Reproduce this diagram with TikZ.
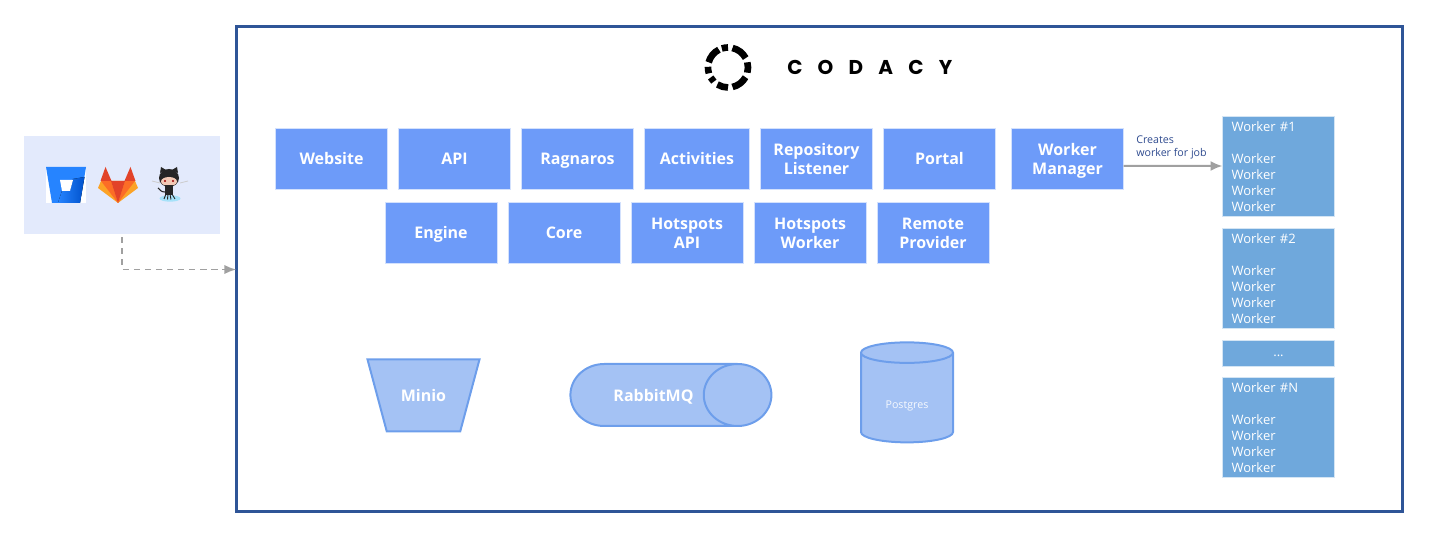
\documentclass[tikz,border=0pt]{standalone}
\usepackage{fontspec}
\setmainfont{Open Sans}
\newfontfamily\logofont[LetterSpace=76]{Poppins Bold}
\usetikzlibrary{positioning,arrows.meta,shapes.geometric,calc}

\definecolor{framecol}{HTML}{2F5597}
\definecolor{boxcol}{HTML}{6D9BF9}
\definecolor{workercol}{HTML}{6FA8DC}
\definecolor{lightcol}{HTML}{A4C2F4}
\definecolor{palecol}{HTML}{C9DAF8}
\definecolor{edgecol}{HTML}{6D9EEB}
\definecolor{sourcecol}{HTML}{E3EAFC}
\definecolor{flowcol}{HTML}{A0A0A0}
\definecolor{notecol}{HTML}{2F4B8F}
\definecolor{bucketcol}{HTML}{2684FF}
\definecolor{bucketdark}{HTML}{0052CC}
\definecolor{labred}{HTML}{E24329}
\definecolor{laborange}{HTML}{FC6D26}
\definecolor{labyellow}{HTML}{FCA326}
\definecolor{catskin}{HTML}{F2C9B5}

\newcommand{\firstline}{\rule{0pt}{14pt}}

\tikzset{
    service/.style={fill=boxcol, draw=white!70!boxcol, line width=0.3pt, text=white, font=\bfseries\fontsize{12}{14.2}\selectfont,
        align=center, minimum width=84pt, minimum height=45.75pt, inner sep=0pt, outer sep=0pt,
        execute at begin node={\rule{0pt}{13.5pt}}, execute at end node={\rule[-3.8pt]{0pt}{3.8pt}}},
    workerbox/.style={fill=workercol, draw=white!70!workercol, line width=0.3pt, text=white, font=\fontsize{9.75}{12}\selectfont,
        align=left, text width=70.5pt, minimum height=75pt, inner xsep=6.75pt, inner ysep=0pt, outer sep=0pt, anchor=north west},
    store/.style={fill=lightcol, draw=edgecol, line width=1.5pt, text=white, inner sep=0pt, outer sep=0pt,
        font=\bfseries\fontsize{12}{14}\selectfont},
    flow/.style={-{Latex[length=9pt,width=7.5pt]}, draw=flowcol, line width=1.5pt},
    dashflow/.style={-{Latex[length=9pt,width=7pt]}, draw=flowcol, line width=1.4pt, dash pattern=on 4.7pt off 3.6pt},
}

\begin{document}
\begin{tikzpicture}[x=0.75pt,y=-0.75pt]
    \useasboundingbox (0,0) rectangle (1447,541);

    %%%%% THE FRAME
    \node (frame) [draw=framecol, line width=2.25pt, minimum width=874.75pt, minimum height=363.75pt,
        inner sep=0pt, outer sep=0pt] at (819.5,269.5) {};

    %%%%% THE LOGO
    \coordinate (ring) at (728,67.5);
    \foreach \from/\to in {90/108, 28/77, -15/15, -77/-29, -122/-90, -150/-135, 178/197, 117/165}
      \draw[black, line width=5pt] ([shift={(\from:15pt)}]ring) arc[start angle=\from, end angle=\to, radius=15pt];
    \node (codacy) [anchor=west, inner sep=0pt, font=\logofont\fontsize{15}{15}\selectfont] at (787,67.5) {CODACY};

    %%%%% THE SERVICES
    \node (website) [service, anchor=north west] at (275.5,128) {Website};
    \node (api) [service, right=8.25pt of website] {API};
    \node (ragnaros) [service, right=8.25pt of api] {Ragnaros};
    \node (activities) [service, right=8.25pt of ragnaros, minimum width=78.75pt] {Activities};
    \node (listener) [service, right=8.25pt of activities] {\firstline Repository\\Listener};
    \node (portal) [service, right=8.25pt of listener] {Portal};
    \node (manager) [service, right=12pt of portal] {\firstline Worker\\Manager};

    \node (engine) [service, anchor=north west] at (385,202) {Engine};
    \node (core) [service, right=8.25pt of engine] {Core};
    \node (hotapi) [service, right=8.25pt of core] {\firstline Hotspots\\API};
    \node (hotworker) [service, right=8.25pt of hotapi] {\firstline Hotspots\\Worker};
    \node (remote) [service, right=8.25pt of hotworker] {\firstline Remote\\Provider};

    %%%%% THE WORKERS
    \node (worker1) [workerbox] at (1222.5,116) {\rule{0pt}{9pt}Worker \#1\\\mbox{}\\Worker\\Worker\\Worker\\Worker};
    \node (worker2) [workerbox] at (1222.5,228) {\rule{0pt}{9pt}Worker \#2\\\mbox{}\\Worker\\Worker\\Worker\\Worker};
    \node (dots) [workerbox, minimum height=19.5pt, align=center] at (1222.5,340) {\rule{0pt}{6pt}...};
    \node (workern) [workerbox] at (1222.5,377) {\rule{0pt}{9pt}Worker \#N\\\mbox{}\\Worker\\Worker\\Worker\\Worker};

    %%%%% THE STORES
    \node (minio) [store, trapezium, shape border rotate=180, trapezium stretches=true,
        trapezium left angle=46, trapezium right angle=46,
        minimum width=84pt, minimum height=54pt] at (423.5,395.5) {\raisebox{-0.6pt}{Minio}};
    \node (rabbit) [store, cylinder, shape aspect=4.45, cylinder uses custom fill,
        cylinder body fill=lightcol, cylinder end fill=lightcol,
        minimum width=46.5pt, minimum height=150.75pt] at (653.5,395) {\raisebox{-1.4pt}[9pt][2.4pt]{RabbitMQ}};
    \node (postgres) [store, cylinder, shape border rotate=90, shape aspect=0.48, cylinder uses custom fill,
        cylinder body fill=lightcol, cylinder end fill=palecol, text=white!90!lightcol,
        minimum width=69pt, minimum height=75pt, font=\fontsize{8}{10}\selectfont] at (907,398) {\raisebox{-8.2pt}[0pt][0pt]{Postgres}};

    %%%%% THE SOURCES
    \node (source) [fill=sourcecol, minimum width=147pt, minimum height=73.5pt, inner sep=0pt, outer sep=0pt] at (122,185) {};
    % bitbucket
    \fill[white] (46,167) rectangle (86,203);
    \fill[bucketcol] (46,167) -- (86,167) -- (80,203) -- (52,203) -- cycle;
    \fill[left color=bucketcol, right color=bucketdark] (73,179) -- (84.5,177) -- (80,203) -- (58,203) -- (62,191) -- (70,191) -- cycle;
    \fill[white] (60,180) -- (73,180) -- (70,191) -- (62,191) -- cycle;
    % gitlab
    \fill[labyellow] (98,188) -- (101,181) -- (135,181) -- (138,188) -- (118,203) -- cycle;
    \fill[laborange] (101,181) -- (111,181) -- (118,203) -- cycle;
    \fill[laborange] (135,181) -- (125,181) -- (118,203) -- cycle;
    \fill[labred] (111,181) -- (125,181) -- (118,203) -- cycle;
    \fill[labred] (105.5,167) -- (111.5,181) -- (100.5,181) -- cycle;
    \fill[labred] (130.5,167) -- (124.5,181) -- (135.5,181) -- cycle;
    % octocat
    \draw[black!20, line width=0.6pt] (152,181) -- (160,183) (180,183) -- (188,181);
    \fill[cyan!35] (170,198.5) ellipse [x radius=10.5, y radius=3.2];
    \fill[black!85] (169,178) ellipse [x radius=10, y radius=9];
    \fill[black!85] (160,173) -- (161,167) -- (166,170) -- cycle (178,173) -- (177,167) -- (172,170) -- cycle;
    \fill[catskin] (169,181.5) ellipse [x radius=8, y radius=4.5];
    \fill[red!60!black] (165,181) circle (1.1) (173,181) circle (1.1);
    \fill[black!85] (165,185) rectangle (173,195);
    \draw[black!85, line width=0.7pt] (166,194) -- (164,199) (168,194) -- (167.5,199.5) (170,194) -- (171,199.5) (172,194) -- (175,199);
    \draw[black!85, line width=0.8pt] (165,192) .. controls (161,192) and (160,190) .. (158,188);

    %%%% LINKS
    \draw[dashflow] ([yshift=-2.3pt]source.south) |- (frame.west);
    \draw[flow] ([yshift=-5.6pt]manager.east) -- (worker1.west);
    \node (creates) [anchor=south west, align=left, inner sep=0pt, text=notecol,
        font=\fontsize{8}{9.75}\selectfont] at (1136,159.5) {Creates\\worker for job};
\end{tikzpicture}
\end{document}
